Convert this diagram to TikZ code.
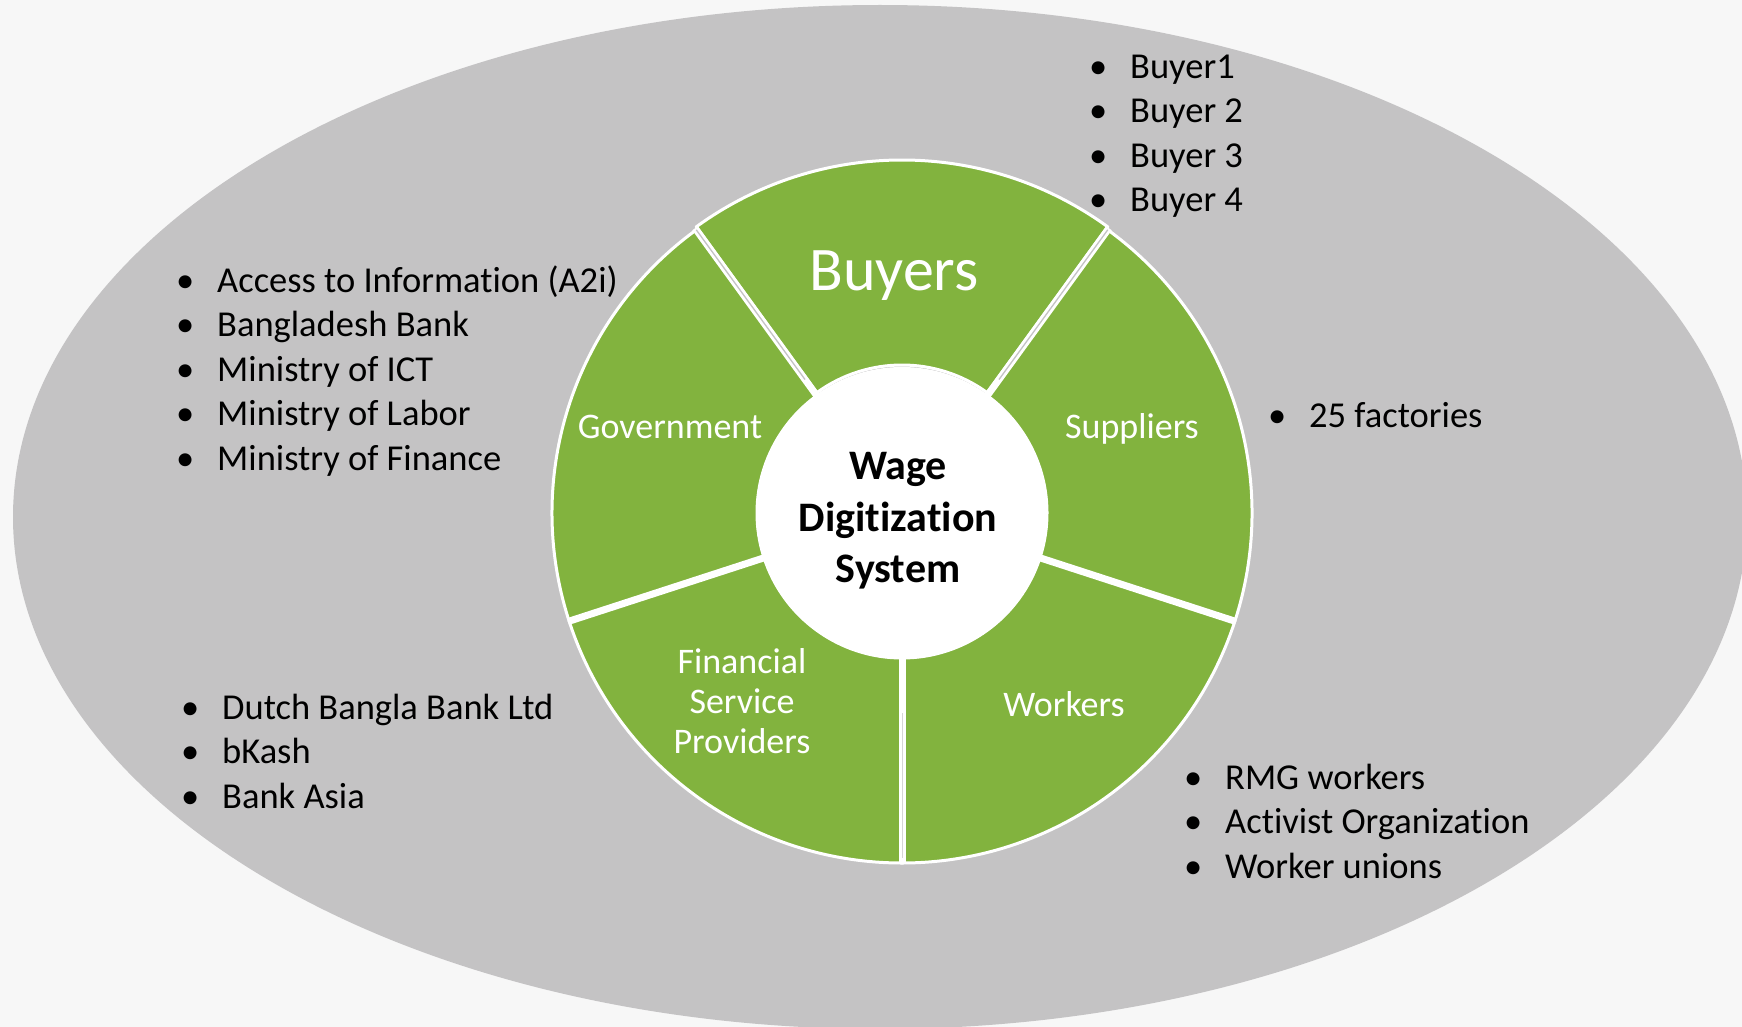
\documentclass[tikz,border=0pt]{standalone}
\usepackage{fontspec}
\setmainfont{Carlito}[Ligatures={NoCommon}]
\definecolor{bg}{RGB}{247,247,247}
\definecolor{ell}{RGB}{196,195,196}
\definecolor{grn}{RGB}{130,179,62}
\newcommand{\bitem}[1]{\makebox[41pt][l]{\textbullet}#1}
\tikzset{
  seg/.style={fill=grn, draw=white, line width=3pt, line join=round},
  sepline/.style={draw=white, line width=7pt},
  gapline/.style={draw=ell, line width=1.3pt},
  seglabel/.style={text=white, font=\fontsize{36}{40}\selectfont, align=center, inner sep=0pt},
  listtext/.style={font=\fontsize{36.5}{44.5}\selectfont, anchor=base west, inner sep=0pt, align=left},
}
\begin{document}
\begin{tikzpicture}[x=1pt,y=1pt]
\useasboundingbox (0,0) rectangle (1742,-1027);
\fill[bg] (0,0) rectangle (1742,-1027);
\begin{scope}
  \clip (0,0) rectangle (1742,-1027);
  \fill[ell] (880,-517) ellipse[x radius=867pt, y radius=512pt];
\end{scope}
\coordinate (c) at (902,-513);
\begin{scope}[shift={(902,-513)}]
  % segments
  \foreach \a/\b in {126/198, 198/270, 270/342, 342/414}{
    \filldraw[seg] (\a:350pt) arc[start angle=\a, end angle=\b, radius=350pt]
      -- (\b:145pt) arc[start angle=\b, end angle=\a, radius=145pt] -- cycle;
  }
  \begin{scope}[shift={(0,3)}]
    \filldraw[seg] (54:350pt) arc[start angle=54, end angle=126, radius=350pt]
      -- (126:145pt) arc[start angle=126, end angle=54, radius=145pt] -- cycle;
  \end{scope}
  % separators
  \foreach \a in {198,270,342}{
    \draw[sepline] (\a:140pt) -- (\a:351pt);
  }
  \foreach \a in {54,126}{
    \draw[sepline] (\a:140pt) -- (\a:352pt);
    \draw[gapline] (\a:165pt) -- (\a:350pt);
  }
  \draw[draw=ell!70!white, line width=0.8pt] (270:200pt) -- (270:345pt);
  % hub
  \fill[white] (0,0) circle[radius=146pt];
\end{scope}

% segment labels
\node[seglabel, font=\fontsize{62}{70}\selectfont, anchor=base] (buyers) at (894,-290) {Buyers};
\node[seglabel, anchor=base] (government) at (670,-438) {Government};
\node[seglabel, anchor=base] (suppliers) at (1132,-438) {Suppliers};
\node[seglabel, anchor=base] (workers) at (1064,-716) {Workers};
\node[seglabel] (fsp) at (742,-701) {Financial\\Service\\Providers};
\node[font=\bfseries\fontsize{42}{51.5}\selectfont, align=center, inner sep=0pt] (hub) at (898,-521) {Wage\\Digitization\\System};

% lists (anchored at the baseline of the last line)
\node[listtext] (buyerlist) at (1089,-211.5) {\bitem{Buyer1}\\\bitem{Buyer 2}\\\bitem{Buyer 3}\\\bitem{Buyer 4}};
\node[listtext] (govlist) at (176,-470) {\bitem{Access to Information (A2i)}\\\bitem{Bangladesh Bank}\\\bitem{Ministry of ICT}\\\bitem{Ministry of Labor}\\\bitem{Ministry of Finance}};
\node[listtext] (supplist) at (1268,-427) {\bitem{25 factories}};
\node[listtext] (fsplist) at (181,-808) {\bitem{Dutch Bangla Bank Ltd}\\\bitem{bKash}\\\bitem{Bank Asia}};
\node[listtext] (worklist) at (1184,-878) {\bitem{RMG workers}\\\bitem{Activist Organization}\\\bitem{Worker unions}};
\end{tikzpicture}
\end{document}
